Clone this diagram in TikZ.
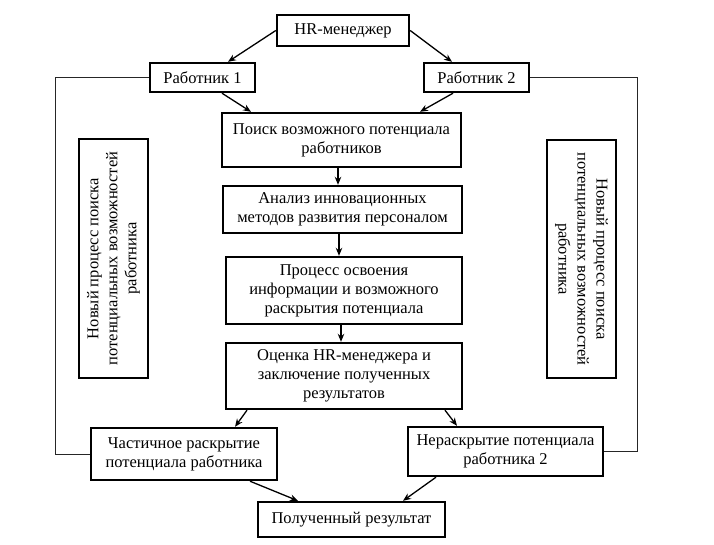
\documentclass[tikz,border=0pt]{standalone}
\usepackage{fontspec}
\setmainfont{Liberation Serif}
\usetikzlibrary{arrows.meta,calc}
\begin{document}
\begin{tikzpicture}[x=1pt,y=-1pt,
  box/.style={draw=black,line width=2.4pt,fill=white,inner sep=0pt,align=center,
    font=\fontsize{16.5}{19}\selectfont},
  arr/.style={line width=1.3pt,-{Stealth[length=8pt,width=6.5pt]}},
  side/.style={line width=0.8pt,draw=black!85}]
\useasboundingbox (0,0) rectangle (714,544);
\node[box,minimum width=132pt,minimum height=31pt] (hr) at (343,30.5) {HR-менеджер};
\node[box,minimum width=105pt,minimum height=29pt] (r1) at (202.5,77.5) {Работник 1};
\node[box,minimum width=105pt,minimum height=29pt] (r2) at (476.5,77.5) {Работник 2};
\node[box,minimum width=239pt,minimum height=54pt] (poisk) at (341.5,140) {Поиск возможного потенциала\\работников};
\node[box,minimum width=239pt,minimum height=47pt] (analiz) at (342.5,209.5) {Анализ инновационных\\методов развития персоналом};
\node[box,minimum width=236pt,minimum height=67pt] (proc) at (344,290.5) {Процесс освоения\\информации и возможного\\раскрытия потенциала};
\node[box,minimum width=236pt,minimum height=66pt] (ocenka) at (344,376) {Оценка HR-менеджера и\\заключение полученных\\результатов};
\node[box,minimum width=186pt,minimum height=52pt] (chast) at (184,454) {Частичное раскрытие\\потенциала работника};
\node[box,minimum width=195pt,minimum height=49pt] (nerask) at (505.5,451.5) {Нераскрытие потенциала\\работника 2};
\node[box,minimum width=187pt,minimum height=35pt] (res) at (351.5,519.5) {Полученный результат};
\node[box,rotate=90,minimum width=239pt,minimum height=69pt] (lbox) at (113.5,258.5) {Новый процесс поиска\\потенциальных возможностей\\работника};
\node[box,rotate=-90,minimum width=238pt,minimum height=69pt] (rbox) at (581.5,259) {Новый процесс поиска\\потенциальных возможностей\\работника};
\coordinate (lx) at (55,0);
\coordinate (rx) at (637,0);
\draw[side] (r1.west) -| (lx |- chast.west) -- (chast.west);
\draw[side] (r2.east) -| (rx |- nerask.east) -- (nerask.east);
\draw[arr] (hr.west) -- ([xshift=25.5pt]r1.north);
\draw[arr] (hr.east) -- ([xshift=-24.5pt]r2.north);
\draw[arr] ([xshift=19.5pt]r1.south) -- ([xshift=-90.5pt]poisk.north);
\draw[arr] ([xshift=-23.5pt]r2.south) -- ([xshift=78.5pt]poisk.north);
\draw[arr] ([xshift=-3.5pt]poisk.south) -- ([xshift=-3.5pt]poisk.south |- analiz.north);
\draw[arr] ([xshift=-3.5pt]analiz.south) -- ([xshift=-3.5pt]analiz.south |- proc.north);
\draw[arr] ([xshift=-3pt]proc.south) -- ([xshift=-3pt]proc.south |- ocenka.north);
\draw[arr] ([xshift=-97pt]ocenka.south) -- ([xshift=51pt]chast.north);
\draw[arr] ([xshift=101pt]ocenka.south) -- ([xshift=-48.5pt]nerask.north);
\draw[arr] ([xshift=66pt]chast.south) -- ([xshift=-53.5pt]res.north);
\draw[arr] ([xshift=-69.5pt]nerask.south) -- ([xshift=51.5pt]res.north);
\end{tikzpicture}
\end{document}
